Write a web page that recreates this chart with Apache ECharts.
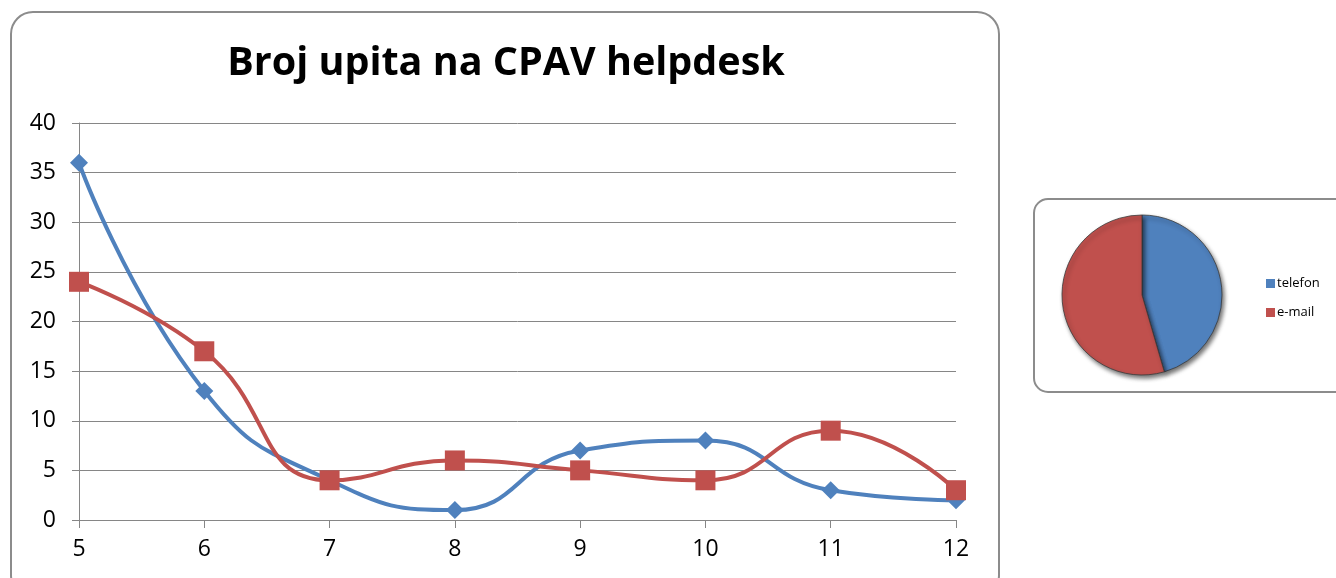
<!DOCTYPE html>
<html>
<head>
<meta charset="utf-8">
<script src="https://cdn.jsdelivr.net/npm/echarts@6/dist/echarts.min.js"></script>
<style>
  html, body { margin: 0; padding: 0; background: #ffffff; }
  #chart { width: 1336px; height: 578px; }
</style>
</head>
<body>
<div id="chart"></div>
<script>
// Monthly helpdesk inquiries by channel
const months = ['5', '6', '7', '8', '9', '10', '11', '12'];
const telefon = [36, 13, 4, 1, 7, 8, 3, 2];
const email = [24, 17, 4, 6, 5, 4, 9, 3];
const yTicks = [0, 5, 10, 15, 20, 25, 30, 35, 40];
// Share of inquiries per channel (pie)
const pieNames = ['telefon', 'e-mail'];
const pieShares = [45.5, 54.5];

const BLUE = '#4F81BD';
const RED = '#C0504D';
const FONT = '"Open Sans", "Noto Sans", sans-serif';
const AXIS_TEXT = { fontFamily: FONT, fontSize: 23, color: '#000' };

const chart = echarts.init(document.getElementById('chart'), null, { renderer: 'canvas' });

chart.setOption({
  animation: false,
  backgroundColor: '#ffffff',
  graphic: [
    {
      type: 'rect', left: 10, top: 11, z: -10,
      shape: { width: 988, height: 585, r: 22 },
      style: { fill: '#ffffff', stroke: '#8c8c8c', lineWidth: 2 }
    },
    {
      type: 'rect', left: 1033, top: 198, z: -10,
      shape: { width: 330, height: 193, r: 14 },
      style: { fill: '#ffffff', stroke: '#8c8c8c', lineWidth: 2 }
    }
  ],
  title: {
    text: 'Broj upita na CPAV helpdesk',
    left: 501, top: 39, textAlign: 'center',
    textStyle: { fontFamily: FONT, fontSize: 39.5, fontWeight: 'bold', color: '#000' }
  },
  legend: {
    data: pieNames,
    orient: 'vertical',
    left: 1261, top: 272,
    itemWidth: 9, itemHeight: 9, itemGap: 16,
    icon: 'rect',
    textStyle: { fontFamily: FONT, fontSize: 13, color: '#000', padding: [0, 0, 0, -3] }
  },
  grid: { left: 79, right: 380, top: 123, bottom: 58 },
  xAxis: {
    type: 'category',
    data: months,
    boundaryGap: false,
    axisLine: { lineStyle: { color: '#868686', width: 1 } },
    axisTick: { show: true, length: 8, alignWithLabel: true, lineStyle: { color: '#868686' } },
    axisLabel: Object.assign({ margin: 18 }, AXIS_TEXT),
    splitLine: { show: false }
  },
  yAxis: {
    type: 'value',
    min: yTicks[0], max: yTicks[yTicks.length - 1], interval: 5,
    axisLine: { show: true, lineStyle: { color: '#868686', width: 1 } },
    axisTick: { show: true, length: 7, lineStyle: { color: '#868686' } },
    axisLabel: Object.assign({ margin: 23 }, AXIS_TEXT),
    splitLine: { show: true, lineStyle: { color: '#868686', width: 1 } }
  },
  series: [
    {
      name: 'telefon',
      type: 'line',
      data: telefon,
      smooth: 0.5,
      symbol: 'diamond', symbolSize: 18,
      lineStyle: { color: BLUE, width: 4 },
      itemStyle: { color: BLUE },
      z: 2
    },
    {
      name: 'e-mail',
      type: 'line',
      data: email,
      smooth: 0.5,
      symbol: 'rect', symbolSize: 20,
      lineStyle: { color: RED, width: 4 },
      itemStyle: { color: RED },
      z: 3
    },
    {
      name: 'udio',
      type: 'pie',
      center: [1142, 295],
      radius: [0, 80],
      startAngle: 90,
      clockwise: true,
      label: { show: false },
      labelLine: { show: false },
      data: pieNames.map((n, i) => ({
        name: n,
        value: pieShares[i],
        itemStyle: {
          color: i === 0 ? BLUE : RED,
          borderColor: '#3b3b3b', borderWidth: 0.8,
          shadowColor: 'rgba(0,0,0,0.55)', shadowBlur: 4, shadowOffsetX: 2, shadowOffsetY: 3
        }
      })),
      z: 5
    }
  ]
});
</script>
</body>
</html>
